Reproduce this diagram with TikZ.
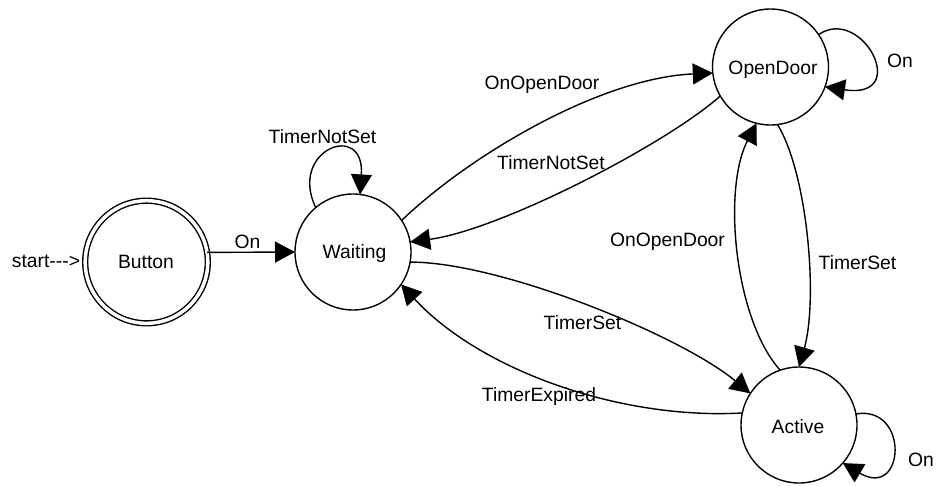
\documentclass[tikz,border=0pt]{standalone}
\usepackage{fontspec}
\setmainfont{Liberation Sans}
\usetikzlibrary{arrows.meta}
\begin{document}
\begin{tikzpicture}[x=1pt,y=-1pt,
  state/.style={draw, circle, line width=1.4pt, minimum size=116pt, inner sep=0pt, outer sep=0pt},
  lbl/.style={inner sep=0pt, font=\fontsize{19.3}{23}\selectfont},
  edge/.style={line width=1.4pt, -{Triangle[length=20pt,width=21pt]}},
  every node/.style={font=\fontsize{19.3}{23}\selectfont}]
\useasboundingbox (0,0) rectangle (936,485);
% states
\node[state, double, double distance=3.5pt, minimum size=122.6pt] (button) at (146.5,262) {};
\node[lbl] (buttontxt) at (146,262) {Button};
\node[state] (waiting) at (353,252) {};
\node[lbl] (waitingtxt) at (354.5,254) {Waiting};
\node[state] (opendoor) at (770.5,67) {};
\node[lbl] (opendoortxt) at (773,70) {OpenDoor};
\node[state] (active) at (799,425) {};
\node[lbl] (activetxt) at (798,427) {Active};
\node[lbl] (start) at (46,261) {start{-}{-}{-}>};
% transitions
\draw[edge] (button.9) -- (waiting.west);
\node[lbl] (l1) at (247.5,242) {On};
\draw[edge] (waiting.130) .. controls (288,150) and (365,120) .. (waiting.83);
\node[lbl] (l2) at (322.5,137) {TimerNotSet};
\draw[edge] (waiting.33) .. controls (470,155) and (600,78) .. (opendoor.186);
\node[lbl] (l3) at (542,85) {OnOpenDoor};
\draw[edge] (opendoor.210.6) .. controls (665,145) and (500,230) .. (waiting.10.3);
\node[lbl] (l4) at (551,163) {TimerNotSet};
\draw[edge] (waiting.350.5) .. controls (500,262) and (680,335) .. (active.147.4);
\node[lbl] (l5) at (582.5,323) {TimerSet};
\draw[edge] (active.168.9) .. controls (620,420) and (480,370) .. (waiting.326.6);
\node[lbl] (l6) at (539,397) {TimerExpired};
\draw[edge] (opendoor.277.6) .. controls (808,175) and (818,300) .. (active.90);
\node[lbl] (l7) at (857.5,263) {TimerSet};
\draw[edge] (active.109) .. controls (735,320) and (722,190) .. (opendoor.256.4);
\node[lbl] (l8) at (667.5,242) {OnOpenDoor};
\draw[edge] (opendoor.34) .. controls (862,5) and (912,100) .. (opendoor.340);
\node[lbl] (l9) at (900,61) {On};
\draw[edge] (active.11.9) .. controls (910,405) and (905,500) .. (active.319);
\node[lbl] (l10) at (921,460) {On};
\end{tikzpicture}
\end{document}
